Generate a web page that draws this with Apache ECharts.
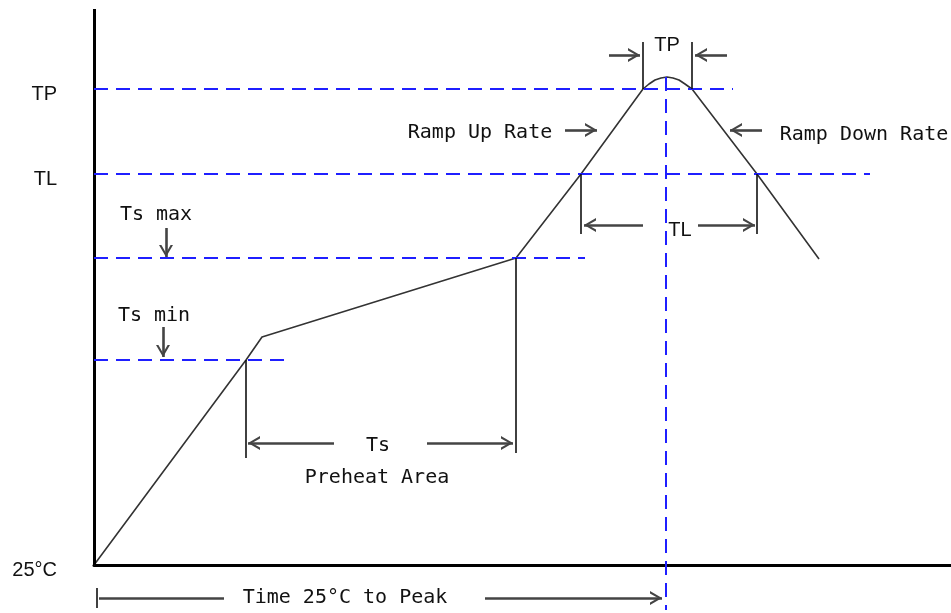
<!DOCTYPE html>
<html lang="en">
<head>
<meta http-equiv="Content-Type" content="text/html; charset=utf-8" />
<title>Reflow Profile</title>
<style type="text/css">
html, body { margin: 0; padding: 0; background: #fff; }
#profile { width: 951px; height: 613px; }
</style>
<script src="https://cdn.jsdelivr.net/npm/echarts@6/dist/echarts.min.js"></script>
</head>
<body>
<div id="profile"></div>
<script type="text/javascript">
// 曲线: 时间 / 温度 (0 = 25°C 起点, 单位按图量取)
var profileTime = [0, 152, 168, 422, 487, 549, 555, 561, 567, 573, 579, 585, 591, 598, 663, 725];
var profileTemp = [0, 205, 228, 307, 391, 476, 481, 485, 487, 488, 487, 485, 481, 476, 391, 306];

// 纵轴刻度
var tickValues = [0, 391, 476];
var tickNames = ['25°C', 'TL', 'TP'];

// 蓝色水平虚线: TP, TL, Ts max, Ts min
var levelTemp = [476, 391, 307, 205];
var levelEnd = [639, 776, 491, 190];

// 峰值竖虚线: 时间, 上端, 下端
var peakLine = [572, 488, -45];

// 黑色竖线: 时间, 起点, 终点
var guideTime = [152, 422, 487, 663, 549, 598, 3];
var guideFrom = [205, 307, 391, 391, 476, 476, -23];
var guideTo = [107, 112, 331, 331, 523, 523, -43];

// 箭头 [x1, y1, x2, y2], 箭头在终点
var arrows = [
  [515, 510, 546, 510],
  [633, 510, 601, 510],
  [471, 435, 503, 435],
  [668, 435, 636, 435],
  [549, 340, 490, 340],
  [604, 340, 661, 340],
  [240, 122, 154, 122],
  [333, 122, 419, 122],
  [72, 337, 72, 308],
  [69, 238, 69, 208],
  [391, -33, 568, -33]
];
// 没有箭头的线段
var shafts = [
  [5, -33, 130, -33]
];

// 文字 [x, y, 内容]
var monoNotes = [
  [62, 350, 'Ts max'],
  [60, 249, 'Ts min'],
  [386, 432, 'Ramp Up Rate'],
  [770, 430, 'Ramp Down Rate'],
  [284, 119, 'Ts'],
  [283, 87, 'Preheat Area'],
  [251, -33, 'Time 25°C to Peak']
];
var sansNotes = [
  [573, 520, 'TP'],
  [586, 335, 'TL']
];

var chevron = 'path://M7,0 Z M7,12 L14,24 L11.6,24 L7,16 L2.4,24 L0,24 Z';

function seg(a) {
  return [{coord: [a[0], a[1]]}, {coord: [a[2], a[3]]}];
}

function noteData(list) {
  return list.map(function (n) {
    return {name: n[2], value: [n[0], n[1]]};
  });
}

var levelLines = levelTemp.map(function (t, i) {
  return seg([0, t, levelEnd[i], t]);
});
levelLines.push(seg([peakLine[0], peakLine[1], peakLine[0], peakLine[2]]));

var guideLines = guideTime.map(function (x, i) {
  return seg([x, guideFrom[i], x, guideTo[i]]);
});

var myChart = echarts.init(document.getElementById('profile'));
var option = {
  animation: false,
  grid: {left: 94, right: 0, top: 9, bottom: 0, outerBoundsMode: 'none'},
  xAxis: {
    type: 'value', min: 0, max: 857,
    axisLine: {show: true, onZero: true, lineStyle: {color: '#000', width: 3}},
    axisTick: {show: false},
    axisLabel: {show: false},
    splitLine: {show: false}
  },
  yAxis: {
    type: 'value', min: -48, max: 556,
    axisLine: {show: false},
    axisTick: {show: false},
    splitLine: {show: false},
    axisLabel: {
      customValues: tickValues,
      formatter: function (v) { return tickNames[tickValues.indexOf(v)]; },
      margin: 37,
      verticalAlign: 'top',
      lineHeight: 10,
      fontFamily: 'Liberation Sans, Arial, sans-serif',
      fontSize: 20,
      color: '#111'
    }
  },
  series: [
    {
      // 纵轴线
      type: 'line', data: [], silent: true,
      markLine: {
        silent: true, symbol: ['none', 'none'], label: {show: false},
        lineStyle: {color: '#000', width: 3, type: 'solid'},
        data: [seg([0, 0, 0, 556])]
      }
    },
    {
      type: 'line', data: [], silent: true,
      markLine: {
        silent: true, symbol: ['none', 'none'], label: {show: false},
        lineStyle: {color: '#1f1fff', width: 2, type: [14, 8]},
        data: levelLines
      }
    },
    {
      type: 'line', data: [], silent: true,
      markLine: {
        silent: true, symbol: ['none', 'none'], label: {show: false},
        lineStyle: {color: '#111', width: 1.6, type: 'solid'},
        data: guideLines
      }
    },
    {
      type: 'line', data: [], silent: true,
      markLine: {
        silent: true, symbol: ['none', chevron], symbolSize: [14, 24], label: {show: false},
        lineStyle: {color: '#444', width: 2.6, type: 'solid'},
        data: arrows.map(seg)
      }
    },
    {
      type: 'line', data: [], silent: true,
      markLine: {
        silent: true, symbol: ['none', 'none'], label: {show: false},
        lineStyle: {color: '#444', width: 2.6, type: 'solid'},
        data: shafts.map(seg)
      }
    },
    {
      name: 'profile',
      type: 'line',
      silent: true,
      symbol: 'none',
      z: 3,
      lineStyle: {color: '#333', width: 1.6},
      data: profileTime.map(function (t, i) { return [t, profileTemp[i]]; })
    },
    {
      type: 'scatter', silent: true, symbolSize: 1,
      itemStyle: {color: 'rgba(0,0,0,0)', opacity: 1},
      label: {
        show: true, position: 'inside', formatter: '{b}', opacity: 1,
        fontFamily: 'DejaVu Sans Mono, monospace', fontSize: 20, color: '#111'
      },
      data: noteData(monoNotes)
    },
    {
      type: 'scatter', silent: true, symbolSize: 1,
      itemStyle: {color: 'rgba(0,0,0,0)', opacity: 1},
      label: {
        show: true, position: 'inside', formatter: '{b}', opacity: 1,
        fontFamily: 'Liberation Sans, Arial, sans-serif', fontSize: 20, color: '#111'
      },
      data: noteData(sansNotes)
    }
  ]
};
myChart.setOption(option);
</script>
</body>
</html>
